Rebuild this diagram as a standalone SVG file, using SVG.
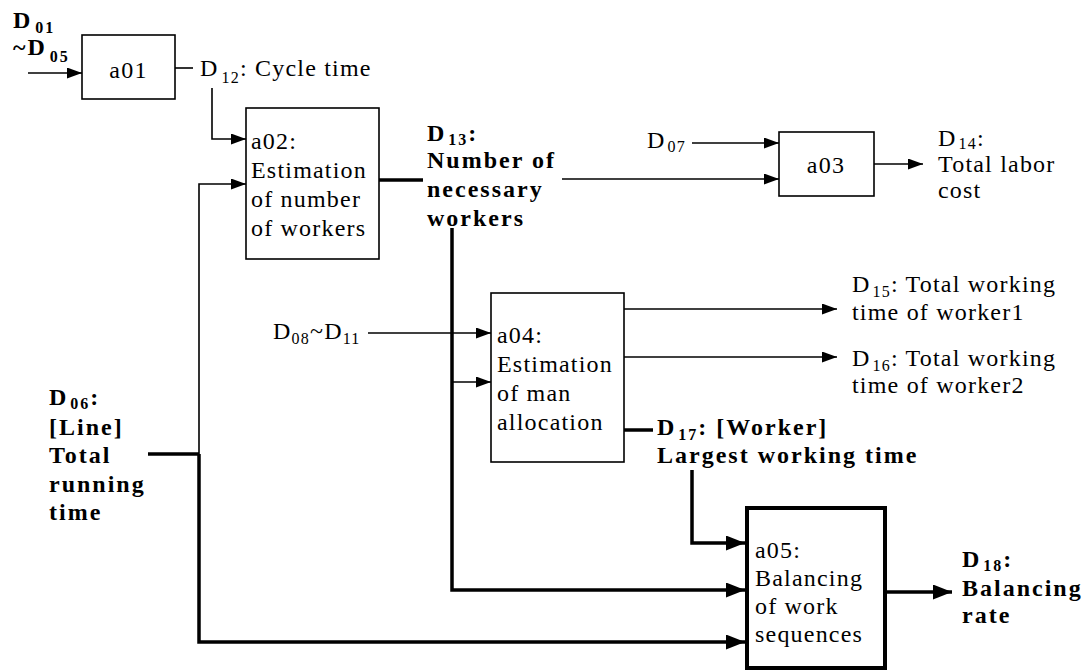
<svg xmlns="http://www.w3.org/2000/svg" width="1086" height="671" viewBox="0 0 1086 671">
<style>
text{font-family:"Liberation Serif","Times New Roman",serif;font-size:24px;fill:#000;letter-spacing:1.2px}
.b{font-weight:bold;letter-spacing:2px}
.s{font-size:16px}
.box{fill:#fff;stroke:#000;stroke-width:1.6}
.box5{fill:#fff;stroke:#000;stroke-width:4}
.thin{fill:none;stroke:#000;stroke-width:1.6}
.thick{fill:none;stroke:#000;stroke-width:3.5}
</style>
<defs>
<marker id="ah" markerUnits="userSpaceOnUse" markerWidth="16" markerHeight="12" refX="15" refY="5.5" orient="auto"><path d="M0,0 L15,5.5 L0,11 z" fill="#000"/></marker>
<marker id="ahb" markerUnits="userSpaceOnUse" markerWidth="20" markerHeight="16" refX="19" refY="7.5" orient="auto"><path d="M0,0 L19,7.5 L0,15 z" fill="#000"/></marker>
</defs>
<rect width="1086" height="671" fill="#fff"/>
<g id="connectors">
<path class="thin" d="M28,73 H82" marker-end="url(#ah)"/>
<path class="thin" d="M175,68 H193"/>
<path class="thin" d="M212,88 V139 H246" marker-end="url(#ah)"/>
<path class="thin" d="M199,454 V184 H246" marker-end="url(#ah)"/>
<path class="thick" d="M148,454 H199"/>
<path class="thick" d="M199,454 V642 H745" marker-end="url(#ahb)"/>
<path class="thick" d="M379,180 H423"/>
<path class="thin" d="M562,179 H779" marker-end="url(#ah)"/>
<path class="thin" d="M692,143 H779" marker-end="url(#ah)"/>
<path class="thin" d="M874,164 H923" marker-end="url(#ah)"/>
<path class="thick" d="M452,228 V590 H745" marker-end="url(#ahb)"/>
<path class="thin" d="M452,382 H491" marker-end="url(#ah)"/>
<path class="thin" d="M368,333 H491" marker-end="url(#ah)"/>
<path class="thin" d="M624,309 H837" marker-end="url(#ah)"/>
<path class="thin" d="M624,357 H837" marker-end="url(#ah)"/>
<path class="thick" d="M624,430 H653"/>
<path class="thick" d="M692,470 V543 H745" marker-end="url(#ahb)"/>
<path class="thick" d="M885,592 H952" marker-end="url(#ahb)"/>
</g>
<g id="a01">
<rect class="box" x="82" y="35" width="93" height="64"/>
<text x="128.5" y="78" text-anchor="middle">a01</text>
</g>
<g id="a02">
<rect class="box" x="246" y="108" width="133" height="151"/>
<text x="251" y="149">a02:</text>
<text x="251" y="178">Estimation</text>
<text x="251" y="207">of number</text>
<text x="251" y="236">of workers</text>
</g>
<g id="a03">
<rect class="box" x="779" y="132" width="95" height="64"/>
<text x="826" y="173" text-anchor="middle">a03</text>
</g>
<g id="a04">
<rect class="box" x="491" y="293" width="133" height="169"/>
<text x="497" y="343">a04:</text>
<text x="497" y="372">Estimation</text>
<text x="497" y="401">of man</text>
<text x="497" y="430">allocation</text>
</g>
<g id="a05">
<rect class="box5" x="747" y="508" width="138" height="160"/>
<text x="755" y="558">a05:</text>
<text x="755" y="586">Balancing</text>
<text x="755" y="614">of work</text>
<text x="755" y="642">sequences</text>
</g>
<g id="labels">
<text class="b" x="13" y="28">D<tspan class="s" dx="3" dy="5">01</tspan></text>
<text class="b" x="13" y="55">~D<tspan class="s" dx="3" dy="7">05</tspan></text>
<text x="200" y="76">D<tspan class="s" dx="3" dy="7">12</tspan><tspan dy="-7">: Cycle time</tspan></text>
<text class="b" x="427" y="141">D<tspan class="s" dx="2" dy="4">13</tspan><tspan dy="-4">:</tspan></text>
<text class="b" x="427" y="168">Number of</text>
<text class="b" x="427" y="197">necessary</text>
<text class="b" x="427" y="226">workers</text>
<text x="647" y="148">D<tspan class="s" dx="2" dy="4">07</tspan></text>
<text x="938" y="146">D<tspan class="s" dx="2" dy="3">14</tspan><tspan dy="-3">:</tspan></text>
<text x="938" y="172">Total labor</text>
<text x="938" y="198">cost</text>
<text x="273" y="339">D<tspan class="s" dy="5">08</tspan><tspan dy="-5">~D</tspan><tspan class="s" dy="5">11</tspan></text>
<text x="852" y="292">D<tspan class="s" dx="2" dy="5">15</tspan><tspan dy="-5">: Total working</tspan></text>
<text x="852" y="320">time of worker1</text>
<text x="852" y="366">D<tspan class="s" dx="2" dy="5">16</tspan><tspan dy="-5">: Total working</tspan></text>
<text x="852" y="393">time of worker2</text>
<text class="b" x="657" y="435">D<tspan class="s" dx="2" dy="5">17</tspan><tspan dy="-5">: [Worker]</tspan></text>
<text class="b" x="657" y="463">Largest working time</text>
<text class="b" x="962" y="567">D<tspan class="s" dx="2" dy="4">18</tspan><tspan dy="-4">:</tspan></text>
<text class="b" x="962" y="596">Balancing</text>
<text class="b" x="962" y="623">rate</text>
<text class="b" x="49" y="405">D<tspan class="s" dx="2" dy="4">06</tspan><tspan dy="-4">:</tspan></text>
<text class="b" x="49" y="435">[Line]</text>
<text class="b" x="49" y="463">Total</text>
<text class="b" x="49" y="492">running</text>
<text class="b" x="49" y="520">time</text>
</g>
</svg>
